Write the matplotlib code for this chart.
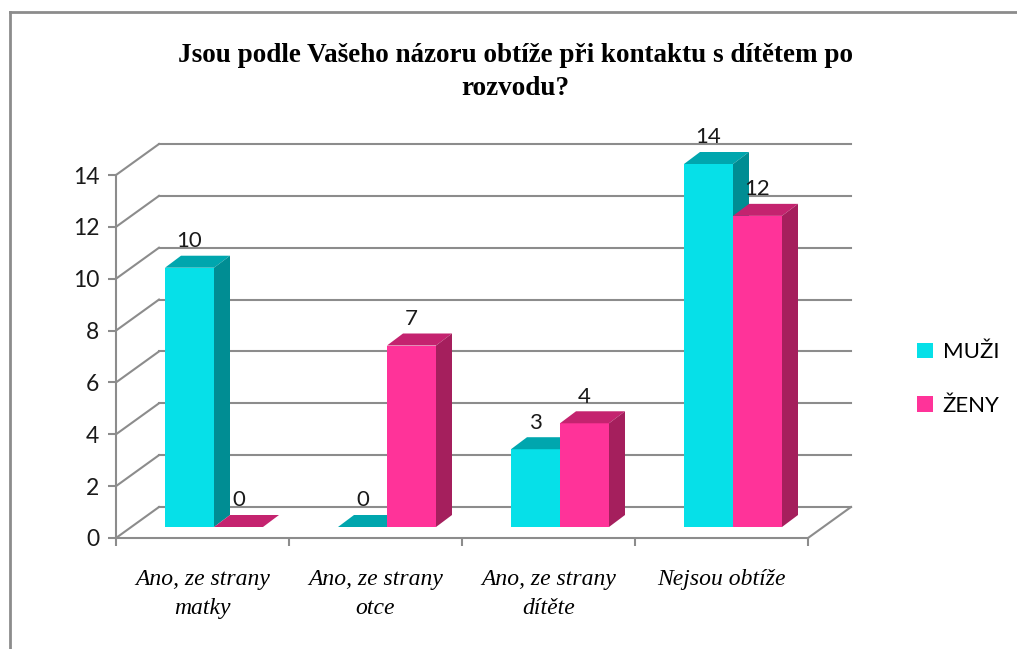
import matplotlib
matplotlib.use("Agg")
import matplotlib.pyplot as plt
from matplotlib.patches import Polygon, Patch
from matplotlib.lines import Line2D

# ---- data ----
title = "Jsou podle Vašeho názoru obtíže při kontaktu s dítětem po\nrozvodu?"
categories = ["Ano, ze strany\nmatky", "Ano, ze strany\notce", "Ano, ze strany\ndítěte", "Nejsou obtíže"]
series_names = ["MUŽI", "ŽENY"]
muzi = [10, 0, 3, 14]
zeny = [0, 7, 4, 12]
yticks = [0, 2, 4, 6, 8, 10, 12, 14]

# ---- style ----
front_cols = ["#06E0E8", "#FF3399"]
top_cols = ["#00A6AE", "#C4236F"]
side_cols = ["#008D93", "#A51F5D"]
grid_col = "#8C8C8C"

W, H, DPI = 1017, 649, 100
fig = plt.figure(figsize=(W / DPI, H / DPI), dpi=DPI)
fig.patch.set_facecolor("white")

# axes: front plane x 116..808 px, y 538..175 px
ax = fig.add_axes([116 / W, 1 - 538 / H, (808 - 116) / W, (538 - 175) / H])
ax.set_xlim(0, 4)
ax.set_ylim(0, 14)
ax.set_facecolor("none")

pxx = 173.0      # px per x unit
pxy = 25.93      # px per y unit
DX, DY = 43 / pxx, 31 / pxy          # floor depth
BX, BY = 11.5 / pxx, 11 / pxy        # bar front offset
SX, SY = 16 / pxx, 12 / pxy          # bar depth
BW = 49 / pxx                        # bar width

# walls / gridlines
for v in yticks:
    ax.add_line(Line2D([DX, 4 + DX], [v + DY, v + DY], color=grid_col, lw=1.5,
                       clip_on=False, zorder=1))
    ax.add_line(Line2D([0, DX], [v, v + DY], color=grid_col, lw=1.5,
                       clip_on=False, zorder=1))
ax.add_line(Line2D([4, 4 + DX], [0, DY], color=grid_col, lw=1.5, clip_on=False, zorder=1))

# bars
n = len(categories)
for i in range(n):
    for s, vals in enumerate([muzi, zeny]):
        v = vals[i]
        L = i + 0.5 - BW + s * BW + BX
        B = BY
        T = BY + v
        ax.bar([L], [v], width=BW, bottom=B, align="edge", color=front_cols[s],
               edgecolor="none", zorder=3 + 0.1 * (2 * i + s), clip_on=False)
        z = 3 + 0.1 * (2 * i + s) + 0.01
        top = Polygon([(L, T), (L + BW, T), (L + BW + SX, T + SY), (L + SX, T + SY)],
                      closed=True, facecolor=top_cols[s], edgecolor="none",
                      zorder=z, clip_on=False)
        ax.add_patch(top)
        if v > 0:
            side = Polygon([(L + BW, B), (L + BW + SX, B + SY), (L + BW + SX, T + SY), (L + BW, T)],
                           closed=True, facecolor=side_cols[s], edgecolor="none",
                           zorder=z, clip_on=False)
            ax.add_patch(side)
        ax.annotate(str(v), xy=(L + BW / 2, T + SY), xytext=(0, 10.5),
                    textcoords="offset points", ha="center", va="center",
                    fontsize=16, family="Lato", color="#1a1a1a", zorder=10,
                    annotation_clip=False)

# axes styling
for sp in ["top", "right"]:
    ax.spines[sp].set_visible(False)
for sp in ["left", "bottom"]:
    ax.spines[sp].set_color(grid_col)
    ax.spines[sp].set_linewidth(1.5)
ax.set_yticks(yticks)
ax.set_yticklabels([str(t) for t in yticks])
ax.tick_params(axis="y", length=6, width=1.5, color=grid_col, pad=6,
               labelsize=16.5, labelcolor="#1a1a1a")
for lab in ax.get_yticklabels():
    lab.set_family("Lato")
ax.set_xticks(range(n + 1))
ax.set_xticklabels([])
ax.tick_params(axis="x", which="major", length=6, width=1.5, color=grid_col, direction="out")
ax.set_xticks([i + 0.5 for i in range(n)], minor=True)
ax.set_xticklabels(categories, minor=True, fontsize=17, family="Liberation Serif",
                   style="italic", linespacing=1.5)
ax.tick_params(axis="x", which="minor", length=0, pad=22)
for lab in ax.get_xticklabels(minor=True):
    lab.set_verticalalignment("top")
    lab.set_multialignment("center")

# title
fig.text(515 / W, 1 - 72 / H, title, ha="center", va="center", fontsize=19.5,
         family="Liberation Serif", weight="bold", linespacing=1.4)

# legend
handles = [Patch(facecolor=front_cols[k], edgecolor="none") for k in range(2)]
leg = fig.legend(handles, series_names, loc="center left",
                 bbox_to_anchor=(897 / W, 1 - 379 / H), frameon=False,
                 prop={"family": "Lato", "size": 16}, handlelength=0.7,
                 handleheight=0.7, handletextpad=0.45, labelspacing=1.5)

# chart frame (left and top edges)
fig.add_artist(Line2D([10 / W, 10 / W], [0, 1 - 12 / H], transform=fig.transFigure,
                      color=grid_col, lw=2))
fig.add_artist(Line2D([10 / W, 1], [1 - 12 / H, 1 - 12 / H], transform=fig.transFigure,
                      color=grid_col, lw=2))

fig.savefig("out.png", dpi=DPI)
